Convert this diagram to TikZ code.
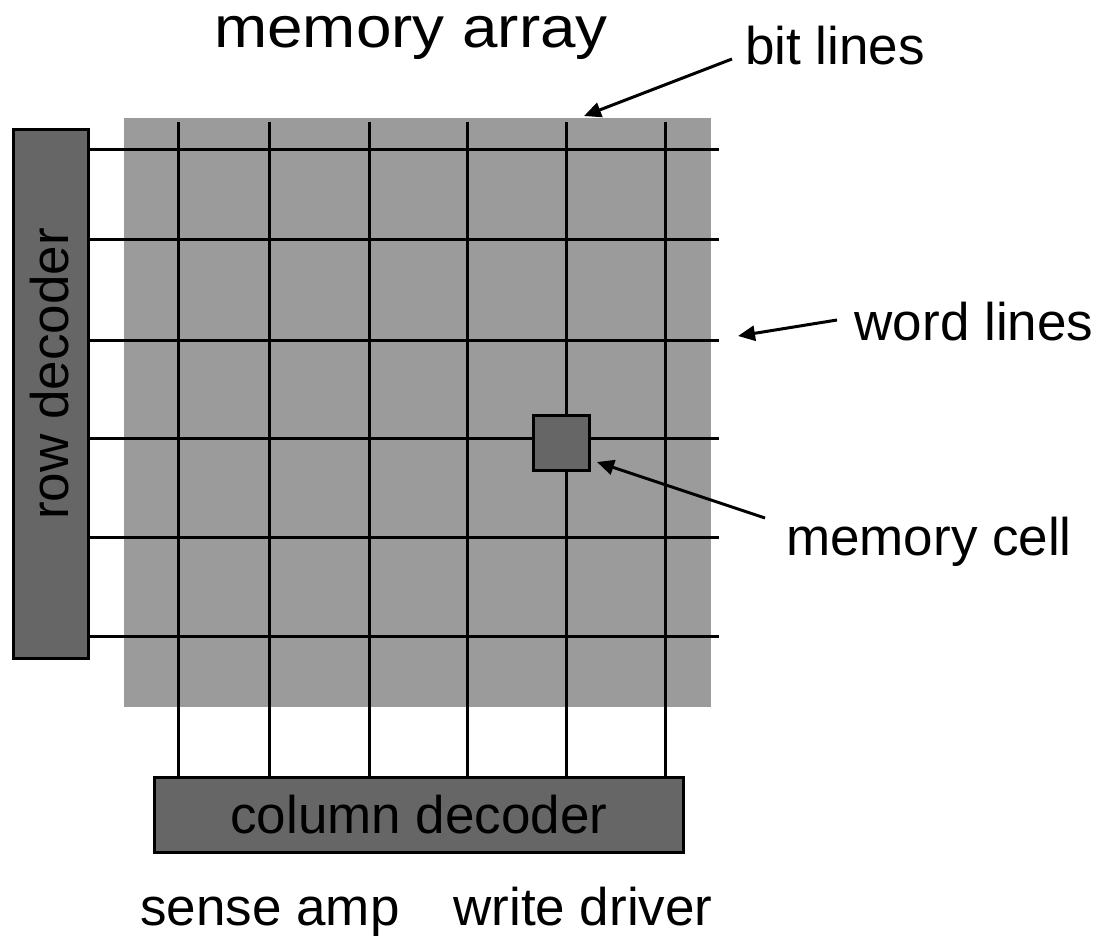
\documentclass[tikz,border=0pt]{standalone}
\usepackage{fontspec}
\setmainfont{Liberation Sans}
\usetikzlibrary{arrows.meta}
\definecolor{arraygray}{HTML}{9B9B9B}
\definecolor{blockgray}{HTML}{666666}
\begin{document}
\begin{tikzpicture}[x=1pt,y=-1pt,
  block/.style={draw=black, line width=3pt, fill=blockgray, inner sep=0pt},
  wire/.style={line width=3pt},
  txt/.style={anchor=base, inner sep=0pt, font=\fontsize{53}{60}\selectfont},
  pointer/.style={line width=3pt, -{Triangle[length=17pt,width=15pt]}}]
\useasboundingbox (0,0) rectangle (1101,936);

% memory array background
\node[fill=arraygray, minimum width=587pt, minimum height=589pt, inner sep=0pt] (arr) at (417.5,412.5) {};

% decoders
\node[block, minimum width=75pt, minimum height=529pt] (rowdec) at (51,394) {};
\node[block, minimum width=529pt, minimum height=75pt, font=\fontsize{53}{60}\selectfont] (coldec) at (419,815) {column decoder};

% word lines
\foreach \n/\y in {1/150,2/240,3/340,4/438,5/537,6/636} {
  \coordinate (wl\n) at (719,\y);
  \draw[wire] (rowdec.east |- wl\n) -- (wl\n);
}
% bit lines
\foreach \n/\x in {1/178,2/269,3/369,4/467,5/566,6/665} {
  \coordinate (bl\n) at (\x,122);
  \draw[wire] (bl\n) -- (bl\n |- coldec.north);
}

% memory cell
\node[block, minimum width=56pt, minimum height=55pt] (cell) at (561.5,443) {};

% labels
\node[txt, font=\fontsize{58}{64}\selectfont, xscale=1.1, text height=34pt] (title) at (411,48) {memory array};
\node[txt] (bitlbl) at (835,65) {bit lines};
\node[txt] (wordlbl) at (974,340) {word lines};
\node[txt] (celllbl) at (929,555) {memory cell};
\node[txt, rotate=90] (rowlbl) at (68,374) {row decoder};
\node[txt] (senselbl) at (270,925) {sense amp};
\node[txt] (writelbl) at (583,925) {write driver};

% pointers
\coordinate (bittail) at (732,59);
\coordinate (bittip) at (584,116);
\coordinate (wordtail) at (837,320);
\coordinate (wordtip) at (738,336);
\coordinate (celltail) at (765,518);
\coordinate (celltip) at (597,462);
\draw[pointer] (bittail) -- (bittip);
\draw[pointer] (wordtail) -- (wordtip);
\draw[pointer] (celltail) -- (celltip);
\end{tikzpicture}
\end{document}
